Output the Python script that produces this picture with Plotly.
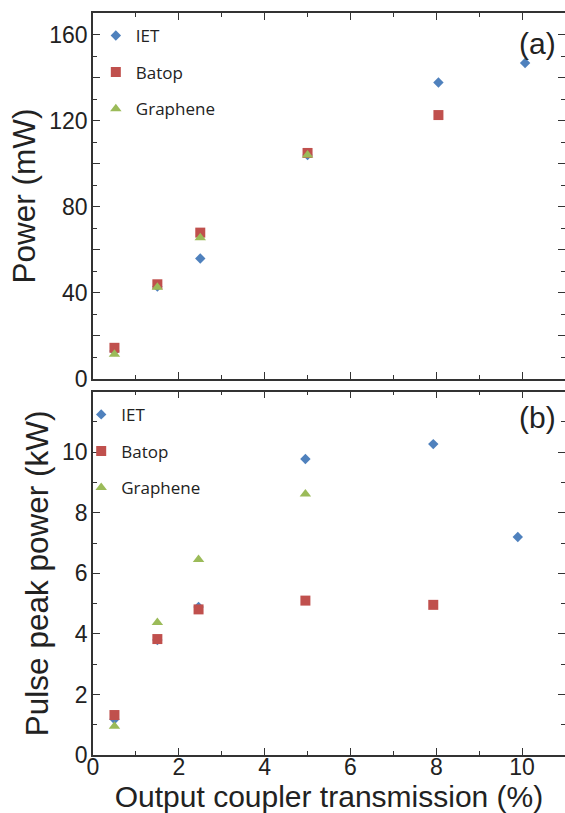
import plotly.graph_objects as go

# ---- data ----
series_names = ["IET", "Batop", "Graphene"]

# panel (a): average output power (mW)
a_iet_x = [0.5, 1.5, 2.5, 5.0, 8.05, 10.07]
a_iet_y = [13, 43, 56, 104, 137.7, 146.8]
a_batop_x = [0.5, 1.5, 2.5, 5.0, 8.05]
a_batop_y = [14.5, 44, 68, 105, 122.6]
a_graph_x = [0.5, 1.5, 2.5, 5.0]
a_graph_y = [11.5, 42.6, 65.6, 104]

# panel (b): pulse peak power (kW)
b_iet_x = [0.5, 1.5, 2.46, 4.95, 7.93, 9.9]
b_iet_y = [1.18, 3.8, 4.89, 9.78, 10.27, 7.2]
b_batop_x = [0.5, 1.5, 2.46, 4.95, 7.93]
b_batop_y = [1.32, 3.83, 4.81, 5.1, 4.96]
b_graph_x = [0.5, 1.5, 2.46, 4.95]
b_graph_y = [0.95, 4.38, 6.46, 8.62]

colors = ["#4f81bd", "#c0504d", "#9bbb59"]
symbols = ["diamond", "square", "triangle-up"]
sizes = [8, 10, 10]

x_ticks = [0, 2, 4, 6, 8, 10]
x_ticktext = ["0", "2", "4", "6", "8", "10"]
a_ticks = [0, 20, 40, 60, 80, 100, 120, 140, 160]
a_ticktext = ["0", "", "40", "", "80", "", "120", "", "160"]
b_ticks = [0, 2, 4, 6, 8, 10]
b_ticktext = ["0", "2", "4", "6", "8", "10"]

x_title = "Output coupler transmission (%)"
a_title = "Power (mW)"
b_title = "Pulse peak power (kW)"

fig = go.Figure()

panel_a = [(a_iet_x, a_iet_y), (a_batop_x, a_batop_y), (a_graph_x, a_graph_y)]
panel_b = [(b_iet_x, b_iet_y), (b_batop_x, b_batop_y), (b_graph_x, b_graph_y)]

for i, (xs, ys) in enumerate(panel_a):
    fig.add_trace(go.Scatter(
        x=xs, y=ys, mode="markers", name=series_names[i],
        marker=dict(symbol=symbols[i], size=sizes[i], color=colors[i]),
        xaxis="x2", yaxis="y2", legend="legend", legendgroup="a" + str(i),
    ))
for i, (xs, ys) in enumerate(panel_b):
    fig.add_trace(go.Scatter(
        x=xs, y=ys, mode="markers", name=series_names[i],
        marker=dict(symbol=symbols[i], size=sizes[i], color=colors[i]),
        xaxis="x", yaxis="y", legend="legend2", legendgroup="b" + str(i),
    ))

FONT = "Liberation Sans, Arial, sans-serif"
axis_common = dict(
    showline=True, linecolor="#333333", linewidth=1.5, mirror="allticks",
    ticks="inside", ticklen=7, tickwidth=1.3, tickcolor="#333333",
    showgrid=False, zeroline=False, automargin=False,
    tickfont=dict(family=FONT, size=23, color="#222222"),
)
minor_common = dict(ticks="inside", ticklen=4, tickwidth=1.2, tickcolor="#333333")

fig.update_layout(
    width=565, height=813,
    paper_bgcolor="white", plot_bgcolor="white",
    margin=dict(l=93, r=0, t=13, b=58),
    showlegend=True,
    xaxis=dict(**axis_common, range=[0, 11], domain=[0, 1], anchor="y",
               tickvals=x_ticks, ticktext=x_ticktext, ticklabelstandoff=-9,
               minor=dict(dtick=1, **minor_common),
               title=dict(text=x_title, font=dict(family=FONT, size=30, color="#222222"), standoff=6)),
    yaxis=dict(**axis_common, range=[0, 12], domain=[0, 0.4896], anchor="x",
               tickvals=b_ticks, ticktext=b_ticktext, ticklabelstandoff=-1,
               minor=dict(dtick=1, **minor_common),
               title=dict(text=b_title, font=dict(family=FONT, size=31.5, color="#222222"), standoff=4)),
    xaxis2=dict(**axis_common, range=[0, 11], domain=[0, 1], anchor="y2",
                tickvals=x_ticks, showticklabels=False, matches="x",
                minor=dict(dtick=1, **minor_common)),
    yaxis2=dict(**axis_common, range=[0, 170], domain=[0.5067, 1], anchor="x2",
                tickvals=a_ticks, ticktext=a_ticktext, ticklabelstandoff=-1,
                minor=dict(dtick=10, **minor_common),
                title=dict(text=a_title, font=dict(family=FONT, size=31.5, color="#222222"), standoff=4)),
    legend=dict(x=0.006, y=0.9933, xanchor="left", yanchor="top",
                font=dict(family="Open Sans, sans-serif", size=17, color="#222222"),
                bgcolor="rgba(0,0,0,0)", tracegroupgap=11.5, itemwidth=30),
    legend2=dict(x=-0.025, y=0.4827, xanchor="left", yanchor="top",
                 font=dict(family="Open Sans, sans-serif", size=17, color="#222222"),
                 bgcolor="rgba(0,0,0,0)", tracegroupgap=11.5, itemwidth=30),
    annotations=[
        dict(text="(a)", xref="x2 domain", yref="y2 domain", x=0.985, y=0.918,
             xanchor="right", yanchor="middle", showarrow=False,
             font=dict(family=FONT, size=30, color="#222222")),
        dict(text="(b)", xref="x domain", yref="y domain", x=0.985, y=0.929,
             xanchor="right", yanchor="middle", showarrow=False,
             font=dict(family=FONT, size=30, color="#222222")),
    ],
)

fig.write_html(
    "out.html",
    config={"displayModeBar": False},
    post_script="document.body.style.margin='0px';document.body.style.overflow='hidden';",
)
